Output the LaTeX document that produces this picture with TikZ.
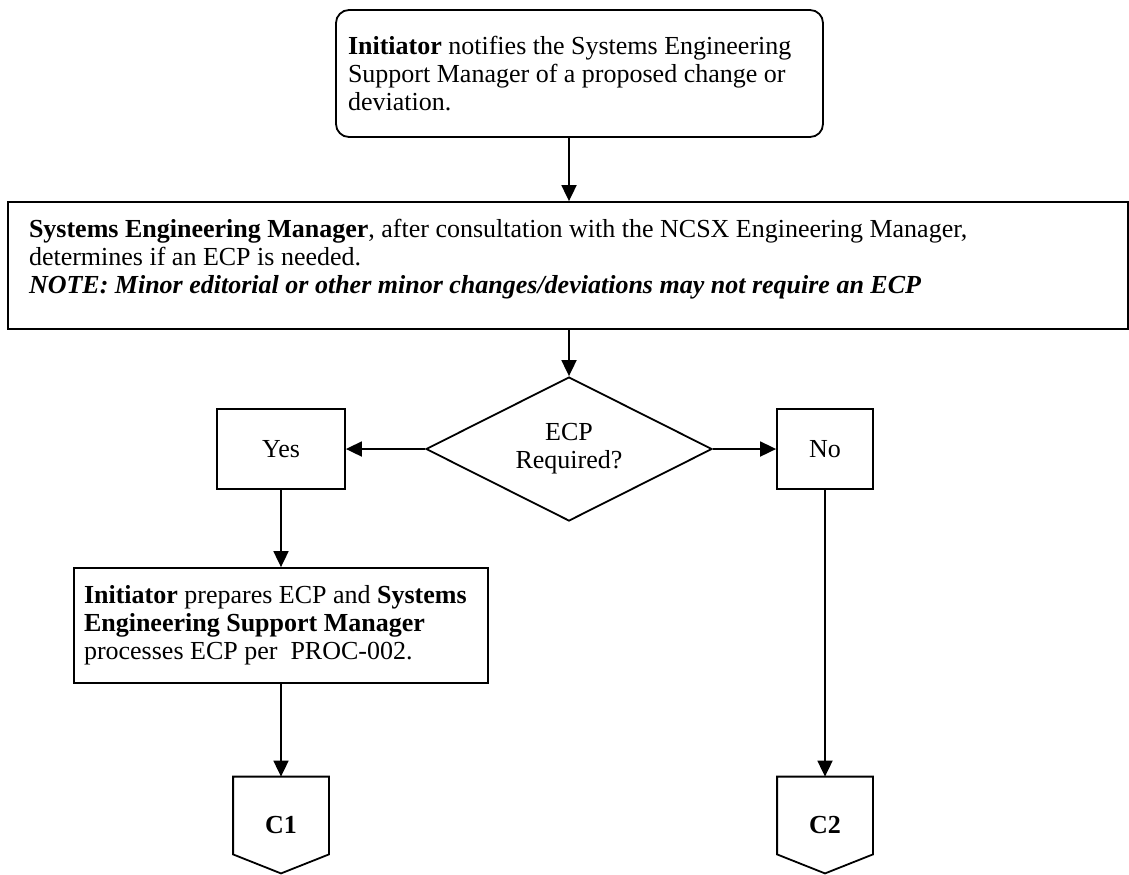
\documentclass[tikz,border=0pt]{standalone}
\usepackage{fontspec}
\setmainfont{Liberation Serif}
\usetikzlibrary{shapes.geometric,arrows.meta}

\begin{document}
\begin{tikzpicture}[x=0.5pt,y=-0.5pt,
  every node/.style={font=\fontsize{13pt}{14pt}\selectfont},
  box/.style={draw, line width=0.9pt, inner sep=0pt},
  offpage/.style={minimum width=47.5pt, minimum height=48pt, inner sep=0pt},
  arr/.style={-{Triangle[length=8pt,width=7.5pt]}, line width=0.9pt}]
\useasboundingbox (0,0) rectangle (1129,874);

% start
\node[box, rounded corners=6.5pt, inner xsep=6pt, text width=231.5pt, minimum height=63.5pt, align=flush left] (init) at (579.5,73.5)
  {\textbf{Initiator} notifies the Systems Engineering\\Support Manager of a proposed change or\\deviation.};

% check with NCSX
\node[box, minimum width=560pt, minimum height=63.5pt] (eng) at (568,265.5)
  {\parbox[c][63.5pt][t]{539pt}{\vspace{8pt}\strut\textbf{Systems Engineering Manager}, after consultation with the NCSX Engineering Manager,\\
  determines if an ECP is needed.\\
  \textbf{\textit{NOTE: Minor editorial or other minor changes/deviations may not require an ECP}}}};

% decision
\node[draw, diamond, aspect=2, line width=0.9pt, minimum width=143pt, minimum height=72pt, inner sep=0pt, align=center] (dec) at (569,449) {ECP\\Required?};
\node[box, minimum width=64pt, minimum height=40pt] (yes) at (281,449) {Yes};
\node[box, minimum width=48pt, minimum height=40pt] (no) at (825,449) {No};

% ECP branch
\node[box, inner xsep=5pt, text width=197pt, minimum height=57.5pt, align=flush left] (act) at (281,625.5)
  {\textbf{Initiator} prepares ECP and \textbf{Systems}\\\textbf{Engineering Support Manager}\\processes ECP per~~PROC-002.};

% off-page references
\node[offpage] (c1) at (281,825) {\textbf{C1}};
\node[offpage] (c2) at (825,825) {\textbf{C2}};
\foreach \c in {c1,c2} {
    \draw[line width=0.9pt] (\c.north west) -- (\c.north east) -- ([yshift=9.5pt]\c.south east)
      -- (\c.south) -- ([yshift=9.5pt]\c.south west) -- cycle;
}

% arrows
\draw[arr] (init.south -| dec.north) -- (eng.north -| dec.north);
\draw[arr] (eng.south -| dec.north) -- (dec.north);
\draw[arr] (dec.west) -- (yes.east);
\draw[arr] (dec.east) -- (no.west);
\draw[arr] (yes.south) -- (act.north);
\draw[arr] (act.south) -- (c1.north);
\draw[arr] (no.south) -- (c2.north);
\end{tikzpicture}
\end{document}
